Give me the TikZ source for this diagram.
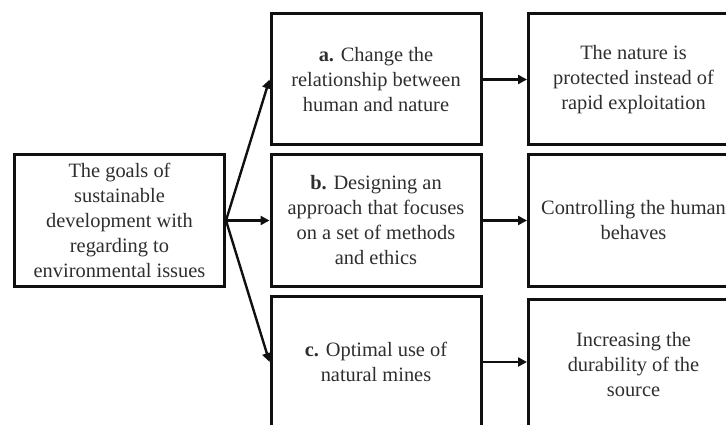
\documentclass[tikz,border=0pt]{standalone}
\usepackage{fontspec}
\setmainfont{Liberation Serif}
\usetikzlibrary{positioning, arrows.meta}
\definecolor{BoxLine}{HTML}{101010}
\definecolor{BoxText}{HTML}{2E2E2E}

\begin{document}
\begin{tikzpicture}[x=1pt, y=-1pt, font=\fontsize{20.4}{25}\selectfont,
  aimbox/.style={draw=BoxLine, line width=3pt, text=BoxText, align=center,
    minimum width=210pt, minimum height=131pt, inner sep=0pt},
  flow/.style={draw=BoxLine, line width=2.4pt, -{Triangle[length=9pt, width=9pt]}}]
  % page is cut at the right and the bottom, as in the scan
  \useasboundingbox (0,0) rectangle (726,425);
  \clip (0,0) rectangle (726,425);
  % the goal on the left
  \node[aimbox, minimum height=132pt] (goal) at (119.5,220.5)
    {The goals of\\sustainable\\development with\\regarding to\\environmental issues};
  % the three approaches
  \node[aimbox] (a) at (376,79.5) {\textbf{a.} Change the\\relationship between\\human and nature};
  \node[aimbox] (b) at (376,220.5) {\textbf{b.} Designing an\\approach that focuses\\on a set of methods\\and ethics};
  \node[aimbox] (c) at (376,362) {\textbf{c.} Optimal use of\\natural mines};
  % their results
  \node[aimbox] (ra) at (633.5,79.5) {The nature is\\protected instead of\\rapid exploitation};
  \node[aimbox] (rb) at (633.5,220.5) {Controlling the human\\behaves};
  \node[aimbox] (rc) at (633.5,365) {Increasing the\\durability of the\\source};
  % connectors
  \draw[flow] (goal.east) -- (a.west);
  \draw[flow] (goal.east) -- (b.west);
  \draw[flow] (goal.east) -- (c.west);
  \draw[flow] (a) -- (ra);
  \draw[flow] (b) -- (rb);
  \draw[flow] (c.east) -- (c.east -| rc.west);
\end{tikzpicture}
\end{document}
